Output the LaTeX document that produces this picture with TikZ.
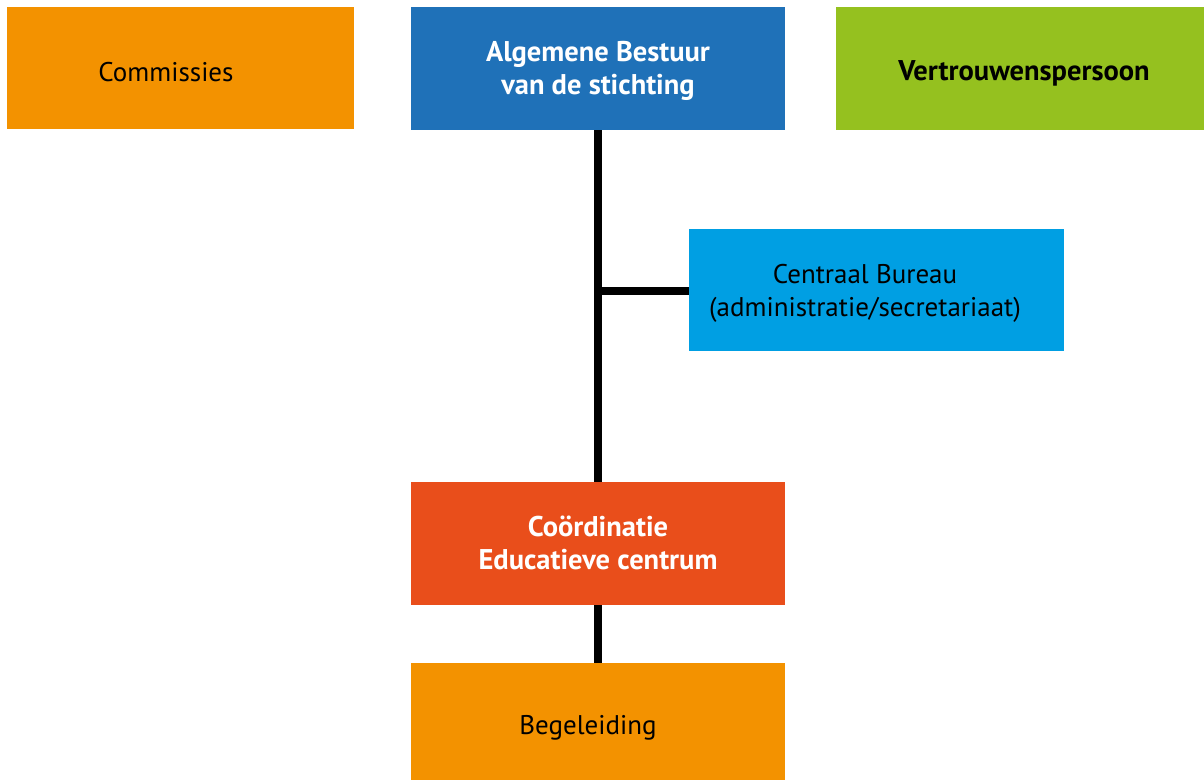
\documentclass[tikz,border=0pt]{standalone}
\usepackage{fontspec}
\setmainfont{PT Sans}
\definecolor{corange}{HTML}{F39200}
\definecolor{cblue}{HTML}{1F71B8}
\definecolor{cgreen}{HTML}{95C11F}
\definecolor{clblue}{HTML}{009FE3}
\definecolor{cred}{HTML}{E94E1B}
\begin{document}
\begin{tikzpicture}[x=1pt,y=-1pt,
  lbl/.style={font=\fontsize{27}{33}\selectfont, align=center, inner sep=0pt},
  blbl/.style={lbl, font=\bfseries\fontsize{28.5}{33}\selectfont},
  conn/.style={line width=8pt, draw=black}]
\useasboundingbox (0,0) rectangle (1204,780);
% boxes
\fill[corange] (7,7) rectangle (354,129);
\node[lbl] (com) at (166,72) {Commissies};
\fill[cblue] (411,7) rectangle (785,130);
\coordinate (ab) at (598,130);
\node[blbl, text=white] (alg) at (598,71) {Algemene Bestuur\\van de stichting};
\fill[cgreen] (836,7) rectangle (1204,130);
\node[blbl] (ver) at (1024,73) {Vertrouwenspersoon};
\fill[clblue] (689,229) rectangle (1064,351);
\coordinate (cb) at (689,291);
\node[lbl] (cen) at (865,293) {Centraal Bureau\\(administratie/secretariaat)};
\fill[cred] (411,482) rectangle (785,605);
\coordinate (co1) at (598,482);
\coordinate (co2) at (598,605);
\node[blbl, text=white] (coo) at (598,543) {Coördinatie\\Educatieve centrum};
\fill[corange] (411,663) rectangle (785,780);
\coordinate (beg) at (598,663);
\node[lbl] (bg) at (588,728) {Begeleiding};
% connectors
\coordinate (j) at (598,291);
\draw[conn] (ab) -- (co1);
\draw[conn] (j) -- (cb);
\draw[conn] (co2) -- (beg);
\end{tikzpicture}
\end{document}
